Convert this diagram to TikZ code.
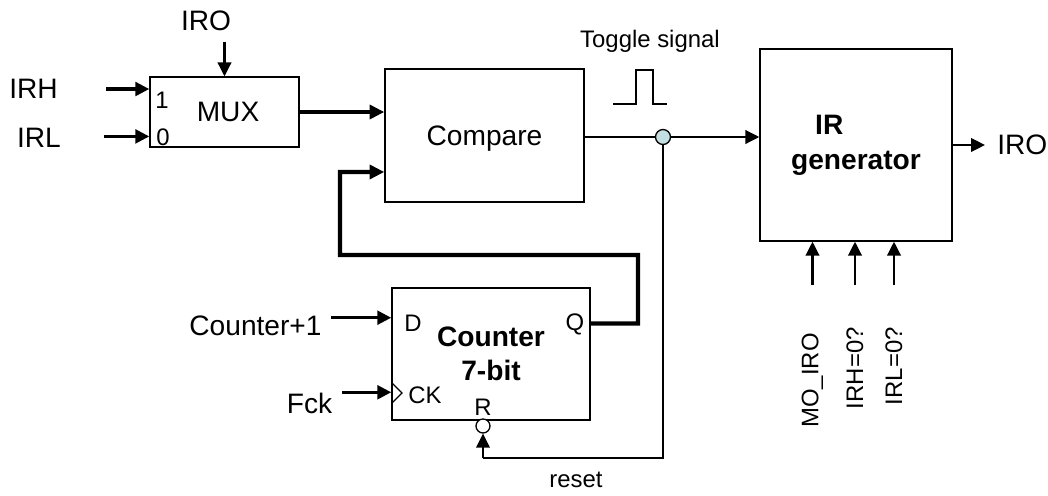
\documentclass[tikz,border=0pt]{standalone}
\usepackage{fontspec}
\setmainfont{Liberation Sans}
\usetikzlibrary{arrows.meta,positioning}
\definecolor{jnfill}{HTML}{C2E0E2}
\tikzset{
  blk/.style={draw=black, line width=0.95pt, inner sep=0pt, align=center, font=\fontsize{20}{25}\selectfont},
  lbl/.style={inner sep=0pt, font=\fontsize{20}{25}\selectfont},
  pinlbl/.style={inner sep=0pt, font=\fontsize{17}{20}\selectfont},
  sig/.style={line width=0.95pt},
  medarrow/.style={-{Triangle[length=3.5mm,width=3.4mm]}, line width=1.6pt},
  inarrow/.style={-{Triangle[length=3.5mm,width=3.4mm]}, line width=2.4pt},
  bus/.style={line width=3pt},
  busarrow/.style={bus, -{Triangle[length=3.7mm,width=3.5mm]}},
  bubble/.style={circle, draw=black, line width=0.95pt, fill=white, inner sep=0pt, minimum size=0.35cm}
}
\begin{document}
\begin{tikzpicture}[x=0.025cm, y=-0.025cm]
\useasboundingbox (0,0) rectangle (1048,495);

% blocks
\node[blk, minimum width=3.725cm, minimum height=1.75cm] (mux) at (224.5,112) {\hspace*{0.25em}MUX};
\node[blk, minimum width=4.975cm, minimum height=3.325cm, text depth=0pt] (cmp) at (484.5,135.5) {Compare};
\node[blk, minimum width=4.8cm, minimum height=4.8cm, font=\fontsize{20}{25}\selectfont\bfseries] (irgen) at (856,145) {\hspace*{-1.9em}IR\\generator};
\node[blk, minimum width=4.95cm, minimum height=3.3cm, font=\fontsize{20}{24}\selectfont\bfseries] (ctr) at (491,354) {Counter\\7-bit};

% pins
\node[pinlbl] (one) at (162,100) {1};
\node[pinlbl] (zero) at (163,137) {0};
\node[pinlbl] (pind) at (413,323) {D};
\node[pinlbl] (pinq) at (575,324) {Q};
\node[pinlbl] (pinck) at (425,395) {CK};
\node[pinlbl] (pinr) at (483,407) {R};
\draw[sig] (392,383) -- (402,393) -- (392,403);

% junction and reset bubble
\node[circle, draw=black, line width=0.95pt, fill=jnfill, inner sep=0pt, minimum size=0.375cm] (jn) at (663,137) {};
\node[bubble] (bub) at (483,426) {};
\coordinate (rstc) at (483,458);

% outside labels
\node[lbl] (irh) at (33.5,89) {IRH};
\node[lbl] (irl) at (39,138) {IRL};
\node[lbl] (irosel) at (206,21) {IRO};
\node[lbl] (cplus) at (255.5,326) {Counter+1};
\node[lbl] (fck) at (309.5,403) {Fck};
\node[lbl, anchor=west] (iroout) at (997,145) {IRO};
\node[pinlbl] (togl) at (650,41) {Toggle signal};
\node[pinlbl] (rst) at (576,480) {reset};

% toggle pulse
\draw[sig] (613,104) -- (636,104) -- (636,70) -- (653,70) -- (653,104) -- (667,104);

% connections
\draw[inarrow] ([xshift=-1.075cm]mux.163) -- (mux.163);
\draw[inarrow] ([xshift=-1.125cm]mux.198) -- (mux.198);
\draw[medarrow] ([yshift=0.85cm]mux.north) -- (mux.north);
\draw[busarrow] (mux.east) -- (mux.east -| cmp.west);
\draw[sig] (jn -| cmp.east) -- (jn);
\draw[medarrow] (jn) -- (jn -| irgen.west);
\draw[medarrow, shorten >=0.3cm] (irgen.east) -- (iroout.west);
\draw[busarrow] (ctr.17) -| (638,255) -| (340,172) -- (cmp.200);
\draw[inarrow] ([xshift=-1.5cm]ctr.160) -- (ctr.160);
\draw[inarrow] ([xshift=-1.225cm]ctr.201) -- (ctr.201);
\draw[sig] (jn) |- (rstc);
\draw[medarrow, line width=1.3pt] (rstc) -- (bub.south);

% status inputs
\foreach \xx/\yy/\txt [count=\i] in {812.5/333/MO\_IRO, 855/327/IRH=0?, 894/327/IRL=0?}{
  \node[pinlbl, rotate=90, anchor=east] (cond\i) at (\xx,\yy) {\txt};
  \draw[{Triangle[length=3.5mm,width=3.4mm]}-, line width=1.6pt] (cond\i.east |- irgen.south) -- ++(0,43);
}
\end{tikzpicture}
\end{document}
